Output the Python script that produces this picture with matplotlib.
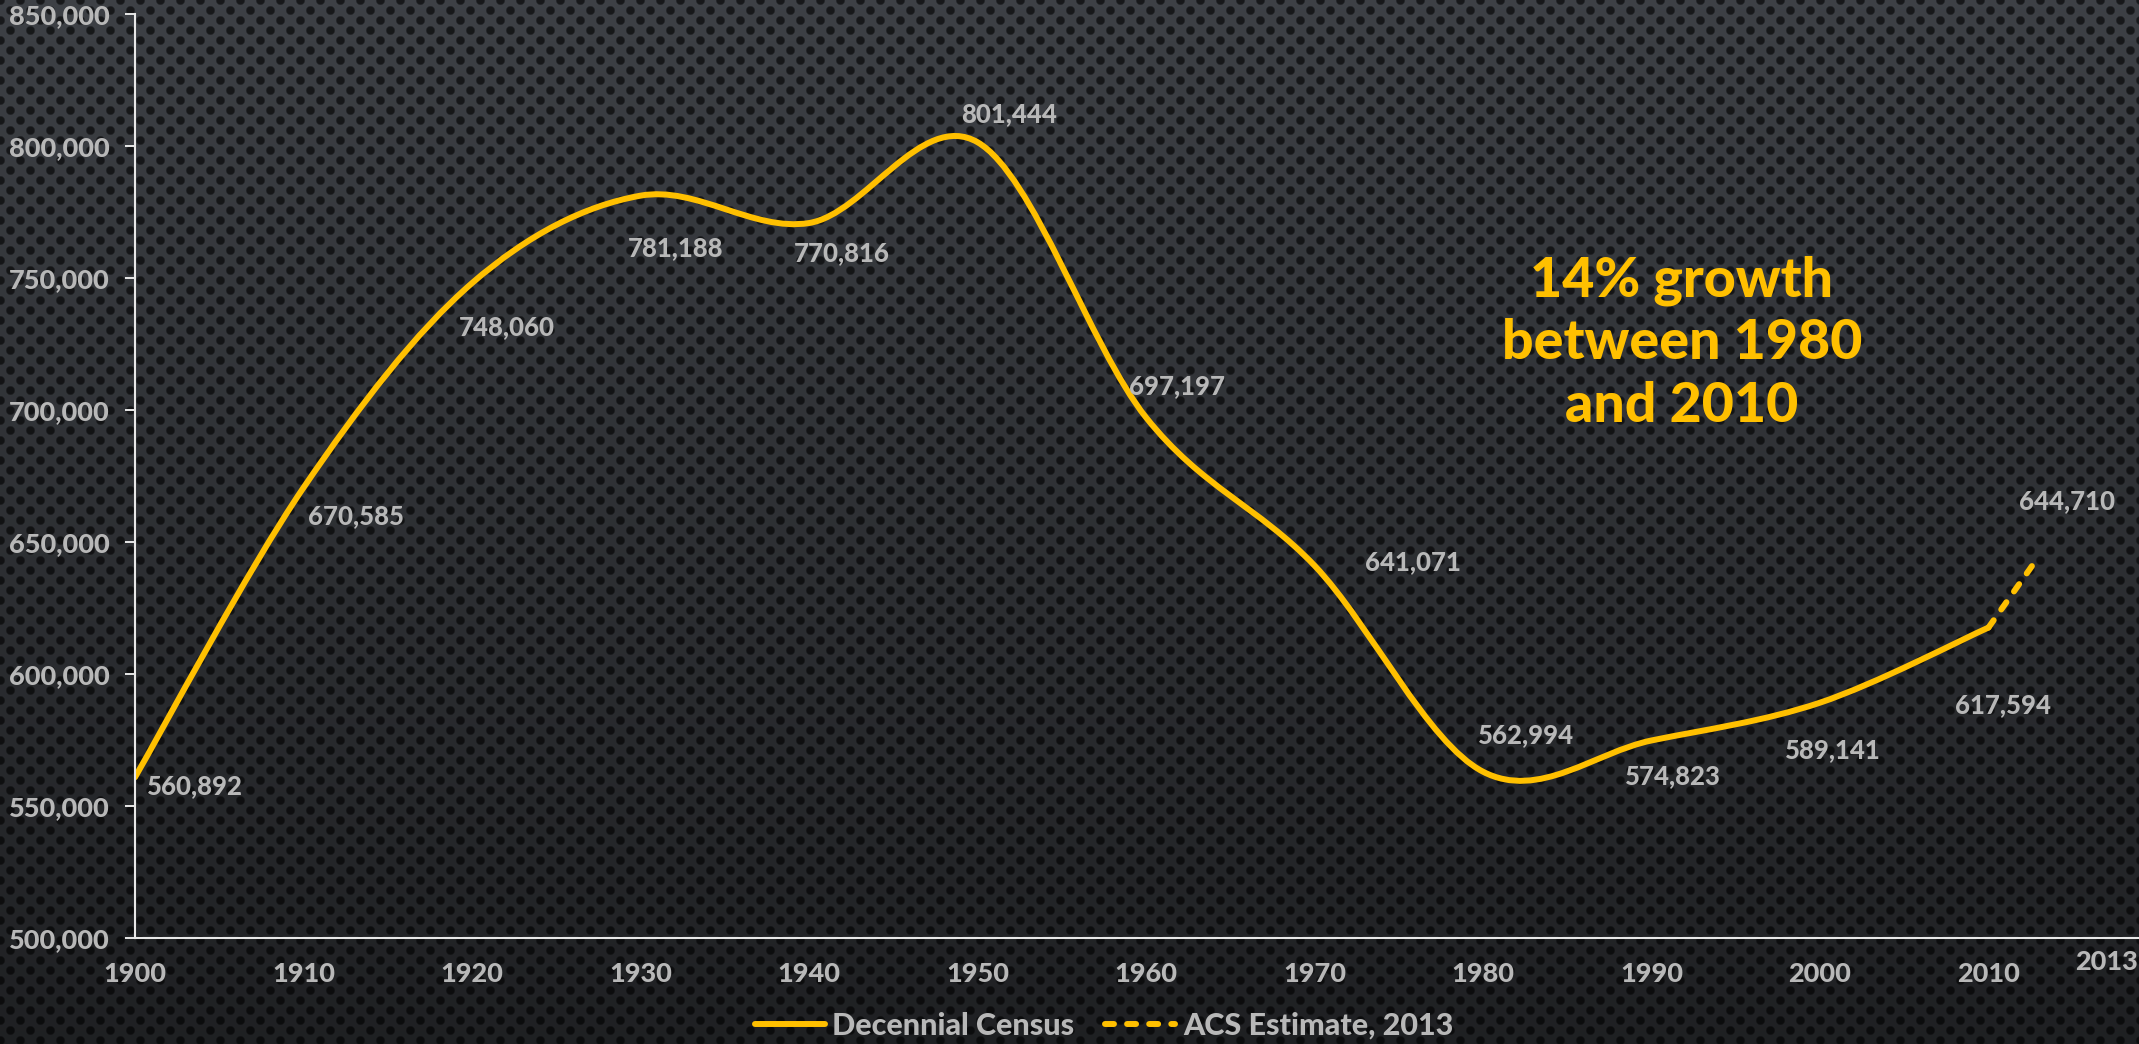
import numpy as np
import matplotlib
matplotlib.use("Agg")
import matplotlib.pyplot as plt
from matplotlib.path import Path
from matplotlib.patches import PathPatch
from matplotlib.lines import Line2D

# census counts
years = [1900, 1910, 1920, 1930, 1940, 1950, 1960, 1970, 1980, 1990, 2000, 2010]
census = [560892, 670585, 748060, 781188, 770816, 801444, 697197, 641071,
          562994, 574823, 589141, 617594]
acs_years = [2010, 2013]
acs = [617594, 644710]
labels = ["560,892", "670,585", "748,060", "781,188", "770,816", "801,444",
          "697,197", "641,071", "562,994", "574,823", "589,141", "617,594"]
acs_label = "644,710"
yticks = [500000, 550000, 600000, 650000, 700000, 750000, 800000, 850000]
xticks = years

gold = "#FFC000"
grey = "#b8b8b8"
W, H = 2139, 1044
FW = "black"

fig = plt.figure(figsize=(W / 100, H / 100), dpi=100)

# dotted dark background with a vertical gradient
yy, xx = np.mgrid[0:H, 0:W].astype(float)
t = (yy / H)[..., None]
top = np.array([0.24, 0.252, 0.272])
bot = np.array([0.12, 0.125, 0.135])
base = top * (1 - t) + bot * t
j = np.round(yy / 10)
xoff = 10 * (j % 2)
i = np.round((xx - xoff) / 20)
d = np.hypot(xx - (20 * i + xoff), yy - 10 * j)
dot = np.clip((5.0 - d) / 1.5, 0, 1)[..., None]
bg = base * (1 - dot) + base * 0.38 * dot
bax = fig.add_axes([0, 0, 1, 1], zorder=0)
bax.imshow(bg, aspect="auto", extent=[0, 1, 0, 1])
bax.axis("off")

ax = fig.add_axes([135 / W, 1 - 938 / H, 1 - 135 / W, 924 / H], zorder=1)
ax.set_facecolor("none")
ax.set_xlim(1900, 1900 + (W - 135) / 16.85)
ax.set_ylim(500000, 850000)

# smooth line (Excel style bezier through the points)
pts = np.column_stack([years, census]).astype(float)
n = len(pts)
verts = [pts[0]]
codes = [Path.MOVETO]
for k in range(n - 1):
    p0, p3 = pts[k], pts[k + 1]
    pm = pts[k - 1] if k > 0 else p0
    pp = pts[k + 2] if k + 2 < n else p3
    verts += [p0 + (p3 - pm) / 6, p3 - (pp - p0) / 6, p3]
    codes += [Path.CURVE4] * 3
ax.add_patch(PathPatch(Path(verts, codes), facecolor="none", edgecolor=gold,
                       lw=4.3, capstyle="round", joinstyle="round",
                       transform=ax.transData))
ax.plot(acs_years, acs, color=gold, lw=4.3, linestyle=(0, (1.5, 2.2)),
        dash_capstyle="round")

# value labels
offsets = [(60, -9), (52, -28), (35, -44), (35, -52), (33, -30), (32, 28),
           (31, 31), (98, 3), (43, 37), (21, -36), (13, -47), (15, -78)]
for x, y, lab, off in zip(years, census, labels, offsets):
    ax.annotate(lab, (x, y), xytext=off, textcoords="offset pixels",
                ha="center", va="center", color=grey, fontsize=18.5,
                fontweight=FW, family="Lato")
ax.annotate(acs_label, (acs_years[1], acs[1]), xytext=(28, 55),
            textcoords="offset pixels", ha="center", va="center", color=grey,
            fontsize=18.5, fontweight=FW, family="Lato")

ax.text(1682 / W, 1 - 343 / H, "14% growth\nbetween 1980\nand 2010",
        transform=fig.transFigure, ha="center", va="center", color=gold,
        fontsize=40, fontweight=FW, family="Lato", linespacing=1.3)

# axes styling
for s in ["top", "right"]:
    ax.spines[s].set_visible(False)
for s in ["left", "bottom"]:
    ax.spines[s].set_color("#e8e8e8")
    ax.spines[s].set_linewidth(1.5)
ax.set_yticks(yticks)
ax.set_yticklabels([f"{v:,}" for v in yticks])
ax.set_xticks(xticks)
ax.set_xticklabels([str(v) for v in xticks])
ax.tick_params(axis="y", length=7, width=1.4, color="#e8e8e8", pad=11,
               labelsize=19.5, labelcolor=grey)
ax.tick_params(axis="x", length=0, pad=17, labelsize=19.5, labelcolor=grey)
for lab in ax.get_xticklabels() + ax.get_yticklabels():
    lab.set_fontweight(FW)
    lab.set_family("Lato")
fig.text(2106 / W, 1 - 962 / H, "2013", ha="center", va="center", color=grey,
         fontsize=19.5, fontweight=FW, family="Lato")

handles = [Line2D([], [], color=gold, lw=4.3, solid_capstyle="round"),
           Line2D([], [], color=gold, lw=4.3, linestyle=(0, (1.5, 2.2)),
                  dash_capstyle="round")]
leg = fig.legend(handles, ["Decennial Census", "ACS Estimate, 2013"],
                 loc="center", bbox_to_anchor=(1104 / W, 1 - 1026 / H),
                 ncol=2, frameon=False, handlelength=2.3, handletextpad=0.25,
                 columnspacing=1.0, prop={"family": "Lato", "weight": FW,
                                          "size": 22})
for txt in leg.get_texts():
    txt.set_color(grey)

fig.savefig("out.png", dpi=100)
